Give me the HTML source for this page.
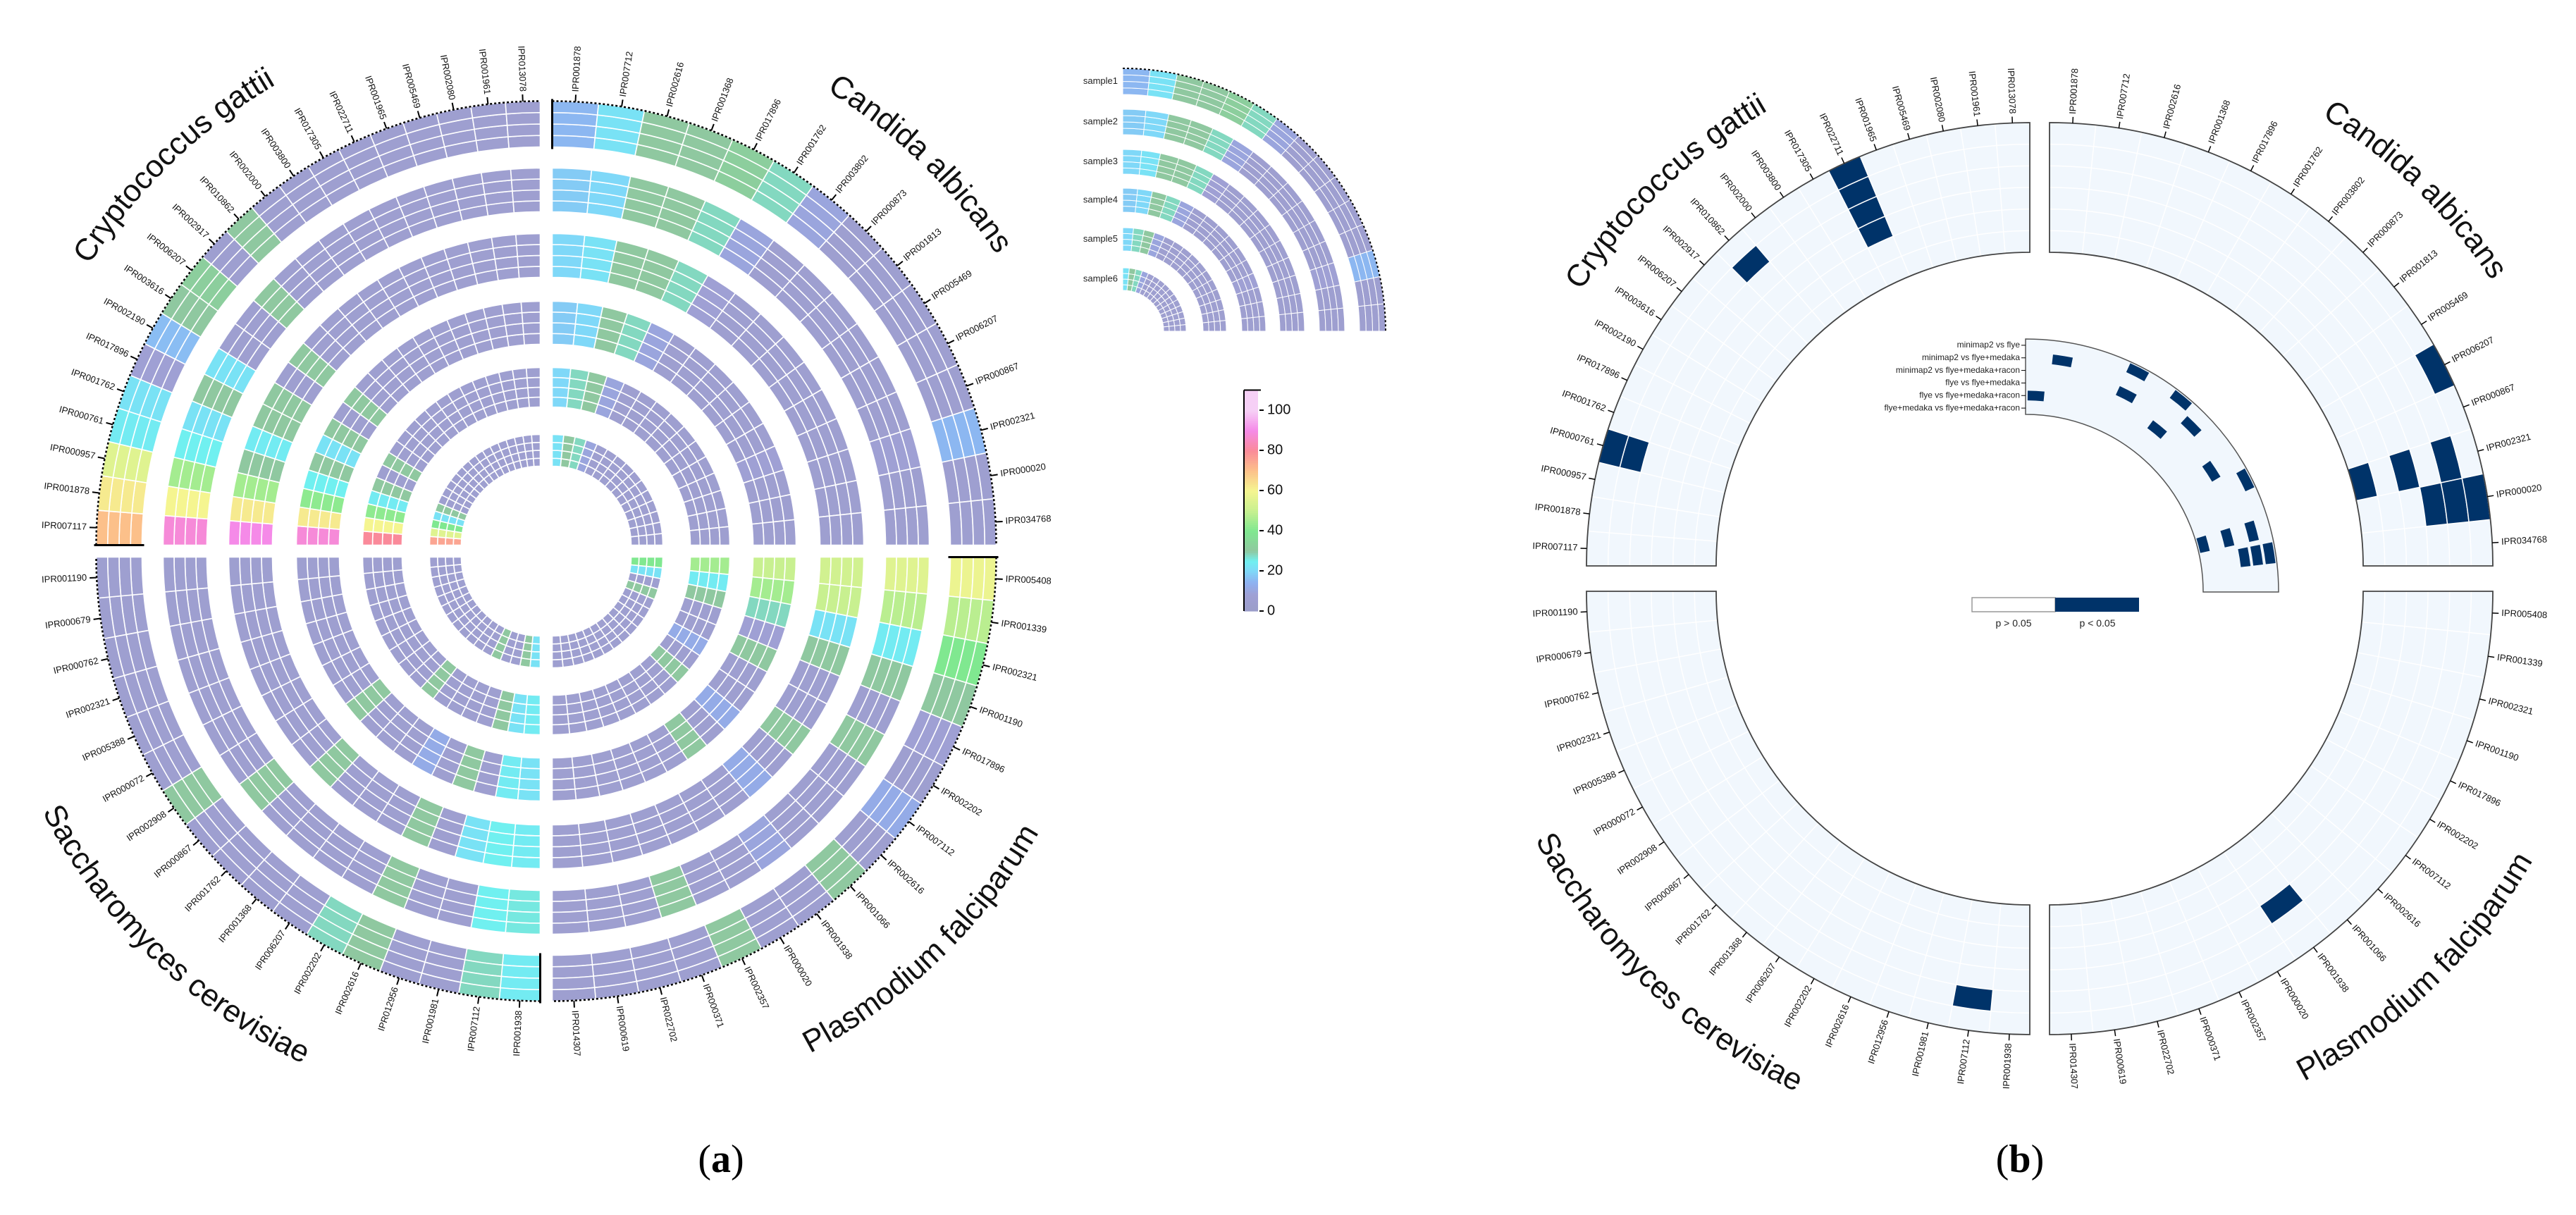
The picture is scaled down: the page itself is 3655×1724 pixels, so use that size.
<!DOCTYPE html>
<html><head><meta charset="utf-8"><title>Circular heatmaps</title>
<style>
html,body{margin:0;padding:0;background:#fff;}
svg{display:block;font-family:"Liberation Sans","DejaVu Sans",sans-serif;}
</style></head>
<body>
<svg id="fig" width="3655" height="1724" viewBox="0 0 3655 1724" xmlns="http://www.w3.org/2000/svg">
<defs id="defs"></defs>
<g id="panelA"></g>
<g id="legendA"></g>
<g id="cbar"></g>
<g id="panelB"></g>
<text x="1023" y="1663" text-anchor="middle" font-family="Liberation Serif, serif" font-size="56">(<tspan font-weight="bold">a</tspan>)</text>
<text x="2866" y="1663" text-anchor="middle" font-family="Liberation Serif, serif" font-size="56">(<tspan font-weight="bold">b</tspan>)</text>
</svg>
<script>
// ---------- DATA ----------
const species = ["Candida albicans","Plasmodium falciparum","Saccharomyces cerevisiae","Cryptococcus gattii"];
const labelsCandida = ["IPR001878","IPR007712","IPR002616","IPR001368","IPR017896","IPR001762","IPR003802","IPR000873","IPR001813","IPR005469","IPR006207","IPR000867","IPR002321","IPR000020","IPR034768"];
const labelsPlasmodium = ["IPR005408","IPR001339","IPR002321","IPR001190","IPR017896","IPR002202","IPR007112","IPR002616","IPR001066","IPR001938","IPR000020","IPR002357","IPR000371","IPR022702","IPR000619","IPR014307"];
const labelsSaccharomyces = ["IPR001938","IPR007112","IPR001981","IPR012956","IPR002616","IPR002202","IPR006207","IPR001368","IPR001762","IPR000867","IPR002908","IPR000072","IPR005388","IPR002321","IPR000762","IPR000679","IPR001190"];
const labelsCryptococcus = ["IPR007117","IPR001878","IPR000957","IPR000761","IPR001762","IPR017896","IPR002190","IPR003616","IPR006207","IPR002917","IPR010862","IPR002000","IPR003800","IPR017305","IPR022711","IPR001965","IPR005469","IPR002080","IPR001961","IPR013078"];
// panel (a) heatmap values, ring 1 (outer) .. ring 6 (inner), segments clockwise from quadrant start
const aCandida = [
 [15,22,30,30,32,28,10,5,5,5,5,5,15,5,5],
 [18,20,30,30,28,10,5,5,5,5,5,5,8,5,5],
 [20,22,30,30,28,8,5,5,5,5,5,5,5,5,5],
 [18,20,30,28,10,5,5,5,5,5,5,8,5,5,5],
 [20,28,30,10,5,5,5,5,5,5,5,5,5,5,5],
 [22,30,28,10,5,5,5,5,5,5,5,5,5,5,5]];
const aPlasmodium = [
 [58,48,40,30,8,5,12,5,30,5,5,30,5,5,5,5],
 [55,48,24,30,5,30,5,5,5,10,5,5,30,5,5,5],
 [52,50,22,30,5,5,30,5,12,5,5,5,5,5,5,5],
 [50,45,28,8,30,5,5,12,5,30,5,5,5,5,5,5],
 [45,24,30,5,5,12,5,30,5,5,5,5,5,5,5,5],
 [40,22,5,30,5,5,5,5,5,5,5,5,5,5,5,5]];
const aSaccharomyces = [
 [24,28,5,5,30,28,5,5,5,5,30,5,5,5,5,5,5],
 [26,25,5,5,30,5,5,5,5,30,5,5,5,5,5,5,5],
 [24,25,22,5,30,5,5,5,30,5,5,5,5,5,5,5,5],
 [22,24,5,30,5,12,5,5,5,30,5,5,5,5,5,5,5],
 [24,22,30,5,5,5,5,30,5,5,5,5,5,5,5,5,5],
 [22,30,5,5,30,5,5,5,5,5,5,5,5,5,5,5,5]];
const aCryptococcus = [
 [70,62,55,24,22,8,16,30,32,5,30,5,5,5,5,5,5,5,5,5],
 [88,60,45,25,22,30,22,5,5,30,5,5,5,5,5,5,5,5,5,5],
 [90,62,45,30,24,30,30,5,30,5,5,5,5,5,5,5,5,5,5,5],
 [88,62,42,25,30,22,30,5,30,5,5,5,5,5,5,5,5,5,5,5],
 [80,60,42,24,30,5,30,5,5,5,5,5,5,5,5,5,5,5,5,5],
 [75,55,40,22,30,5,5,5,5,5,5,5,5,5,5,5,5,5,5,5]];
const sampleNames = ["sample1","sample2","sample3","sample4","sample5","sample6"];
const cbarTicks = [0,20,40,60,80,100];
// panel (b): significant cells [segment, lane(0 inner..5 outer)]
const bCandida = [[10,5],[12,0],[12,2],[12,4],[13,3],[13,4],[13,5]];
const bPlasmodium = [[9,3]];
const bSaccharomyces = [[1,4]];
const bCryptococcus = [[3,4],[3,5],[10,4],[14,2],[14,3],[14,4],[14,5]];
const comparisons = ["minimap2 vs flye","minimap2 vs flye+medaka","minimap2 vs flye+medaka+racon","flye vs flye+medaka","flye vs flye+medaka+racon","flye+medaka vs flye+medaka+racon"];
const bInner = [[1,4],[4,5],[4,3],[6,5],[0,1],[6,2],[7,4],[9,3],[10,5],[12,0],[12,2],[12,4],[13,3],[13,4],[13,5]];
const legendB = ["p > 0.05","p < 0.05"];

// ---------- HELPERS ----------
const NS="http://www.w3.org/2000/svg";
function mk(tag,attrs,parent){const e=document.createElementNS(NS,tag);for(const k in attrs)e.setAttribute(k,attrs[k]);if(parent)parent.appendChild(e);return e;}
const rad=a=>a*Math.PI/180;
function pt(cx,cy,r,a){return [cx+r*Math.sin(rad(a)),cy-r*Math.cos(rad(a))];}
function sector(cx,cy,r0,r1,a0,a1){
  const L=(a1-a0)>180?1:0;const p1=pt(cx,cy,r1,a0),p2=pt(cx,cy,r1,a1),p3=pt(cx,cy,r0,a1),p4=pt(cx,cy,r0,a0);
  return `M${p1[0]},${p1[1]}A${r1},${r1} 0 ${L} 1 ${p2[0]},${p2[1]}L${p3[0]},${p3[1]}A${r0},${r0} 0 ${L} 0 ${p4[0]},${p4[1]}Z`;}
function arc(cx,cy,r,a0,a1){const p1=pt(cx,cy,r,a0),p2=pt(cx,cy,r,a1);return `M${p1[0]},${p1[1]}A${r},${r} 0 0 1 ${p2[0]},${p2[1]}`;}
const stops=[[0,[155,157,201]],[8,[159,160,212]],[14,[143,176,240]],[20,[127,216,248]],[25,[112,240,240]],[30,[143,200,160]],[40,[128,232,144]],[50,[200,240,144]],[60,[245,245,144]],[70,[252,192,138]],[80,[250,138,154]],[90,[245,138,232]],[100,[246,208,246]]];
function cmap(v){v=Math.max(0,Math.min(100,v));for(let i=1;i<stops.length;i++){if(v<=stops[i][0]){const a=stops[i-1],b=stops[i];const t=(v-a[0])/(b[0]-a[0]);const c=a[1].map((x,j)=>Math.round(x+(b[1][j]-x)*t));return `rgb(${c[0]},${c[1]},${c[2]})`;}}return "rgb(246,208,246)";}
function radialLabel(g,cx,cy,r,a,txt,size){
  const p=pt(cx,cy,r,a);const right=(a%360)<180;const rot=right?a-90:a+90;
  const t=mk("text",{x:p[0],y:p[1],"font-size":size,"text-anchor":right?"start":"end","dominant-baseline":"middle",transform:`rotate(${rot} ${p[0]} ${p[1]})`,fill:"#111"},g);
  t.textContent=txt;return t;}
let pathId=0;
function curvedTitle(g,cx,cy,R,ac,txt,bottom){
  const defs=document.getElementById("defs");const id="tp"+(pathId++);
  let d;if(!bottom){d=arc(cx,cy,R,ac-60,ac+60);}else{const p1=pt(cx,cy,R,ac+60),p2=pt(cx,cy,R,ac-60);d=`M${p1[0]},${p1[1]}A${R},${R} 0 0 0 ${p2[0]},${p2[1]}`;}
  mk("path",{id:id,d:d,fill:"none"},defs);
  const t=mk("text",{"font-size":44,fill:"#111"},g);
  
  
  const tp=mk("textPath",{href:"#"+id,startOffset:"50%","text-anchor":"middle"},t);tp.textContent=txt;}

// ---------- PANEL A ----------
(function(){
 const g=document.getElementById("panelA");
 const CX=775,CY=782,off=8.5;
 const rOut=[630,535,442,346,252,157],rIn=[565,473,380,285,196,112];
 const qData=[aCandida,aPlasmodium,aSaccharomyces,aCryptococcus];
 const qLabels=[labelsCandida,labelsPlasmodium,labelsSaccharomyces,labelsCryptococcus];
 const qOff=[[off,-off],[off,off],[-off,off],[-off,-off]];
 for(let q=0;q<4;q++){
  const cx=CX+qOff[q][0],cy=CY+qOff[q][1],s=q*90;const data=qData[q];const n=data[0].length;const w=90/n;
  const qg=mk("g",{},g);
  
  
  for(let r=0;r<6;r++){
   const lw=(rOut[r]-rIn[r])/4;
   for(let i=0;i<n;i++){
    for(let l=0;l<4;l++){
     const c=mk("path",{d:sector(cx,cy,rIn[r]+l*lw,rIn[r]+(l+1)*lw,s+i*w,s+(i+1)*w),fill:cmap(data[r][i]),stroke:"#fff","stroke-width":1.6},qg);
     
     
    }
   }
  }
  mk("path",{d:arc(cx,cy,rOut[0],s,s+90),fill:"none",stroke:"#000","stroke-width":2.5,"stroke-dasharray":"3 3"},qg);
  const e0=pt(cx,cy,rIn[0]-3,s),e1=pt(cx,cy,rOut[0]+3,s);
  mk("line",{x1:e0[0],y1:e0[1],x2:e1[0],y2:e1[1],stroke:"#000","stroke-width":3},qg);
  const lg=mk("g",{},qg);
  for(let i=0;i<n;i++){
   const a=s+(i+0.5)*w;const p0=pt(cx,cy,rOut[0],a),p1=pt(cx,cy,rOut[0]+10,a);
   mk("line",{x1:p0[0],y1:p0[1],x2:p1[0],y2:p1[1],stroke:"#000","stroke-width":2},lg);
   const t=radialLabel(lg,cx,cy,rOut[0]+14,a,qLabels[q][i],13);
   
   
  }
 }
 curvedTitle(g,CX,CY,765,44,species[0],false);
 curvedTitle(g,CX,CY,805,136,species[1],true);
 curvedTitle(g,CX,CY,805,224,species[2],true);
 curvedTitle(g,CX,CY,765,316,species[3],false);
})();

// ---------- SAMPLE LEGEND (quarter) ----------
(function(){
 const g=document.getElementById("legendA");
 const cx=1593,cy=470;const rO=[373,315,258,203,147,90];const th=[37,36,35,34,33,32];
 const n=aCandida[0].length,w=90/n;
 for(let r=0;r<6;r++){
  const lw=th[r]/4;
  for(let i=0;i<n;i++)for(let l=0;l<4;l++){
   const c=mk("path",{d:sector(cx,cy,rO[r]-th[r]+l*lw,rO[r]-th[r]+(l+1)*lw,i*w,(i+1)*w),fill:cmap(aCandida[r][i]),stroke:"#fff","stroke-width":1},g);
   
   
  }
  const t=mk("text",{x:1586,y:cy-rO[r]+th[r]/2,"font-size":13,"text-anchor":"end","dominant-baseline":"middle",fill:"#222"},g);
  t.textContent=sampleNames[r];
  
  
 }
 mk("path",{d:arc(cx,cy,rO[0],0,90),fill:"none",stroke:"#000","stroke-width":2,"stroke-dasharray":"3 3"},g);
})();

// ---------- COLORBAR ----------
(function(){
 const g=document.getElementById("cbar");
 const x=1765,w=20,y0=867,y100=582;const yv=v=>y0+(y100-y0)*v/100;
 for(let v=0;v<110;v+=1){
  const r=mk("rect",{x:x,y:yv(v+1),width:w,height:Math.abs(yv(v)-yv(v+1))+0.6,fill:cmap(v+0.5)},g);
  
  
 }
 mk("line",{x1:x,y1:yv(110),x2:x,y2:y0,stroke:"#000","stroke-width":2},g);
 mk("line",{x1:x,y1:yv(110),x2:x+24,y2:yv(110),stroke:"#000","stroke-width":2},g);
 cbarTicks.forEach(v=>{
  mk("line",{x1:x+w+2,y1:yv(v),x2:x+w+8,y2:yv(v),stroke:"#000","stroke-width":2},g);
  const t=mk("text",{x:x+w+13,y:yv(v),"font-size":20,"dominant-baseline":"middle",fill:"#111"},g);
  t.textContent=v;
  
  
 });
})();

// ---------- PANEL B ----------
(function(){
 const g=document.getElementById("panelB");
 const CX=2894,CY=821,ox=14,oy=18,rI=445,rO=629,lanes=6,lw=(rO-rI)/lanes;
 const qLabels=[labelsCandida,labelsPlasmodium,labelsSaccharomyces,labelsCryptococcus];
 const qSig=[bCandida,bPlasmodium,bSaccharomyces,bCryptococcus];
 const qOff=[[ox,-oy],[ox,oy],[-ox,oy],[-ox,-oy]];
 for(let q=0;q<4;q++){
  const cx=CX+qOff[q][0],cy=CY+qOff[q][1],s=q*90,n=qLabels[q].length,w=90/n;
  const qg=mk("g",{},g);
  
  
  mk("path",{d:sector(cx,cy,rI,rO,s,s+90),fill:"#f1f7fd",stroke:"none"},qg);
  for(let i=1;i<n;i++){const p0=pt(cx,cy,rI,s+i*w),p1=pt(cx,cy,rO,s+i*w);mk("line",{x1:p0[0],y1:p0[1],x2:p1[0],y2:p1[1],stroke:"#fff","stroke-width":1.5},qg);}
  for(let l=1;l<lanes;l++)mk("path",{d:arc(cx,cy,rI+l*lw,s,s+90),fill:"none",stroke:"#fff","stroke-width":1.5},qg);
  qSig[q].forEach(([seg,lane])=>{
   const c=mk("path",{d:sector(cx,cy,rI+lane*lw,rI+(lane+1)*lw,s+seg*w,s+(seg+1)*w),fill:"#003369",stroke:"#fff","stroke-width":1.5},qg);
   
   
  });
  mk("path",{d:sector(cx,cy,rI,rO,s,s+90),fill:"none",stroke:"#444","stroke-width":1.8},qg);
  for(let i=0;i<n;i++){
   const a=s+(i+0.5)*w;const p0=pt(cx,cy,rO,a),p1=pt(cx,cy,rO+9,a);
   mk("line",{x1:p0[0],y1:p0[1],x2:p1[0],y2:p1[1],stroke:"#000","stroke-width":1.5},qg);
   const t=radialLabel(qg,cx,cy,rO+13,a,qLabels[q][i],13);
   
   
  }
 }
 curvedTitle(g,CX,CY,768,44,species[0],false);
 curvedTitle(g,CX,CY,806,136,species[1],true);
 curvedTitle(g,CX,CY,806,224,species[2],true);
 curvedTitle(g,CX,CY,768,316,species[3],false);
 // inner comparison chart
 const ig=mk("g",{},g);
 
 
 const icx=2874,icy=840,ri=252,ro=359,nl=6,il=(ro-ri)/nl,nseg=15,iw=90/nseg;
 mk("path",{d:sector(icx,icy,ri,ro,0,90),fill:"#f1f7fd",stroke:"none"},ig);
 bInner.forEach(([seg,lane])=>{
  const c=mk("path",{d:sector(icx,icy,ri+lane*il+2,ri+(lane+1)*il-2,seg*iw+0.6,(seg+1)*iw-0.6),fill:"#003369"},ig);
  
  
 });
 mk("path",{d:sector(icx,icy,ri,ro,0,90),fill:"none",stroke:"#555","stroke-width":1.5},ig);
 comparisons.forEach((c,k)=>{
  const y=icy-(ro-(k+0.5)*il);
  mk("line",{x1:icx-6,y1:y,x2:icx,y2:y,stroke:"#000","stroke-width":1},ig);
  const t=mk("text",{x:icx-8,y:y,"font-size":12,"text-anchor":"end","dominant-baseline":"middle",fill:"#222"},ig);
  t.textContent=c;
  
  
 });
 // legend
 const lgd=mk("g",{},g);
 
 
 mk("rect",{x:2798,y:848,width:118,height:20,fill:"#fff",stroke:"#999","stroke-width":1.5},lgd);
 mk("rect",{x:2916,y:848,width:119,height:20,fill:"#003369"},lgd);
 legendB.forEach((s,i)=>{const t=mk("text",{x:2857+i*119,y:889,"font-size":14,"text-anchor":"middle",fill:"#222"},lgd);t.textContent=s;
  
  });
})();
</script>
</body></html>
